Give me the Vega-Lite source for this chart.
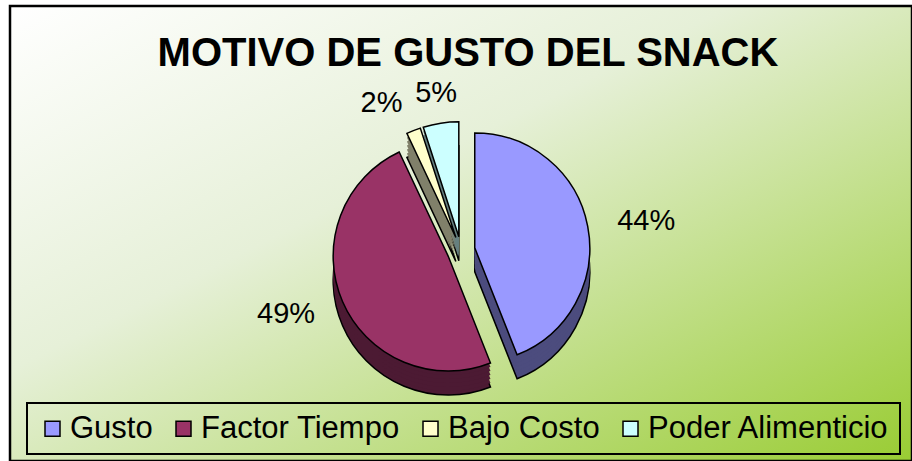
{
  "$schema": "https://vega.github.io/schema/vega-lite/v6.json",
  "autosize": "none",
  "width": 902,
  "height": 455,
  "padding": {"left": 10, "top": 6, "right": 0, "bottom": 0},
  "background": "white",
  "view": {
    "fill": {"gradient": "linear", "x1": 0, "y1": 0, "x2": 1, "y2": 1,
      "stops": [{"offset": 0, "color": "#ffffff"}, {"offset": 0.4, "color": "#e6f0d8"}, {"offset": 1, "color": "#99cc33"}]},
    "stroke": "black",
    "strokeWidth": 2.5
  },
  "title": {
    "text": "MOTIVO DE GUSTO DEL SNACK",
    "font": "Liberation Sans",
    "fontSize": 40,
    "fontWeight": "bold",
    "color": "black",
    "offset": -62,
    "baseline": "alphabetic",
    "dy": 38,
    "dx": 7
  },
  "data": {
    "values": [
      {"motivo": "Gusto", "value": 44, "pct": "44%", "order": 1},
      {"motivo": "Factor Tiempo", "value": 49, "pct": "49%", "order": 2},
      {"motivo": "Bajo Costo", "value": 2, "pct": "2%", "order": 3},
      {"motivo": "Poder Alimenticio", "value": 5, "pct": "5%", "order": 4}
    ]
  },
  "transform": [
    {"stack": "value", "groupby": [], "as": ["v0", "v1"], "sort": [{"field": "order", "order": "ascending"}]}
  ],
  "layer": [
    {
      "mark": {"type": "arc", "outerRadius": 115, "stroke": "black", "strokeWidth": 1.5,
        "xOffset": {"expr": "14*sin((datum.v0+datum.v1)*PI/100)"},
        "yOffset": {"expr": "41-14*cos((datum.v0+datum.v1)*PI/100)"}},
      "encoding": {
        "theta": {"field": "v0", "type": "quantitative", "scale": {"domain": [0, 100]}},
        "theta2": {"field": "v1"},
        "color": {"field": "motivo", "type": "nominal", "legend": null,
          "scale": {"domain": ["Gusto", "Factor Tiempo", "Bajo Costo", "Poder Alimenticio"], "range": ["#4c4c7e", "#4c1a33", "#80806a", "#668080"]}}
      }
    },
    {
      "mark": {"type": "arc", "outerRadius": 115,
        "xOffset": {"expr": "14*sin((datum.v0+datum.v1)*PI/100)"},
        "yOffset": {"expr": "37-14*cos((datum.v0+datum.v1)*PI/100)"}},
      "encoding": {
        "theta": {"field": "v0", "type": "quantitative", "scale": {"domain": [0, 100]}},
        "theta2": {"field": "v1"},
        "color": {"field": "motivo", "type": "nominal", "legend": null,
          "scale": {"domain": ["Gusto", "Factor Tiempo", "Bajo Costo", "Poder Alimenticio"], "range": ["#4c4c7e", "#4c1a33", "#80806a", "#668080"]}}
      }
    },
    {
      "mark": {"type": "arc", "outerRadius": 115,
        "xOffset": {"expr": "14*sin((datum.v0+datum.v1)*PI/100)"},
        "yOffset": {"expr": "33-14*cos((datum.v0+datum.v1)*PI/100)"}},
      "encoding": {
        "theta": {"field": "v0", "type": "quantitative", "scale": {"domain": [0, 100]}},
        "theta2": {"field": "v1"},
        "color": {"field": "motivo", "type": "nominal", "legend": null,
          "scale": {"domain": ["Gusto", "Factor Tiempo", "Bajo Costo", "Poder Alimenticio"], "range": ["#4c4c7e", "#4c1a33", "#80806a", "#668080"]}}
      }
    },
    {
      "mark": {"type": "arc", "outerRadius": 115,
        "xOffset": {"expr": "14*sin((datum.v0+datum.v1)*PI/100)"},
        "yOffset": {"expr": "29-14*cos((datum.v0+datum.v1)*PI/100)"}},
      "encoding": {
        "theta": {"field": "v0", "type": "quantitative", "scale": {"domain": [0, 100]}},
        "theta2": {"field": "v1"},
        "color": {"field": "motivo", "type": "nominal", "legend": null,
          "scale": {"domain": ["Gusto", "Factor Tiempo", "Bajo Costo", "Poder Alimenticio"], "range": ["#4c4c7e", "#4c1a33", "#80806a", "#668080"]}}
      }
    },
    {
      "mark": {"type": "arc", "outerRadius": 115,
        "xOffset": {"expr": "14*sin((datum.v0+datum.v1)*PI/100)"},
        "yOffset": {"expr": "25-14*cos((datum.v0+datum.v1)*PI/100)"}},
      "encoding": {
        "theta": {"field": "v0", "type": "quantitative", "scale": {"domain": [0, 100]}},
        "theta2": {"field": "v1"},
        "color": {"field": "motivo", "type": "nominal", "legend": null,
          "scale": {"domain": ["Gusto", "Factor Tiempo", "Bajo Costo", "Poder Alimenticio"], "range": ["#4c4c7e", "#4c1a33", "#80806a", "#668080"]}}
      }
    },
    {
      "mark": {"type": "arc", "outerRadius": 115,
        "xOffset": {"expr": "14*sin((datum.v0+datum.v1)*PI/100)"},
        "yOffset": {"expr": "21-14*cos((datum.v0+datum.v1)*PI/100)"}},
      "encoding": {
        "theta": {"field": "v0", "type": "quantitative", "scale": {"domain": [0, 100]}},
        "theta2": {"field": "v1"},
        "color": {"field": "motivo", "type": "nominal", "legend": null,
          "scale": {"domain": ["Gusto", "Factor Tiempo", "Bajo Costo", "Poder Alimenticio"], "range": ["#4c4c7e", "#4c1a33", "#80806a", "#668080"]}}
      }
    },
    {
      "mark": {"type": "arc", "outerRadius": 115, "stroke": "black", "strokeWidth": 1.5,
        "xOffset": {"expr": "14*sin((datum.v0+datum.v1)*PI/100)"},
        "yOffset": {"expr": "17-14*cos((datum.v0+datum.v1)*PI/100)"}},
      "encoding": {
        "theta": {"field": "v0", "type": "quantitative", "scale": {"domain": [0, 100]}},
        "theta2": {"field": "v1"},
        "color": {"field": "motivo", "type": "nominal",
          "scale": {"domain": ["Gusto", "Factor Tiempo", "Bajo Costo", "Poder Alimenticio"], "range": ["#9999ff", "#993366", "#ffffcc", "#ccffff"]},
          "legend": {"orient": "none", "legendX": 17, "legendY": 397, "direction": "horizontal", "title": null}}
      }
    },
    {
      "mark": {"type": "text", "radius": 145, "font": "Liberation Sans", "fontSize": 29, "color": "black", "baseline": "middle",
        "align": {"expr": "sin((datum.v0+datum.v1)*PI/100) > 0.3 ? 'left' : (sin((datum.v0+datum.v1)*PI/100) < -0.3 ? 'right' : 'center')"},
        "xOffset": {"expr": "14*sin((datum.v0+datum.v1)*PI/100)"},
        "yOffset": {"expr": "17-14*cos((datum.v0+datum.v1)*PI/100)"}},
      "encoding": {
        "theta": {"field": "value", "type": "quantitative", "stack": true},
        "order": {"field": "order"},
        "text": {"field": "pct"}
      }
    }
  ],
  "resolve": {"scale": {"color": "independent"}},
  "config": {
    "legend": {
      "strokeColor": "black",
      "strokeWidth": 2,
      "padding": 10,
      "symbolOffset": 0,
      "symbolType": "square",
      "symbolSize": 225,
      "symbolStrokeColor": "black",
      "symbolStrokeWidth": 1.5,
      "symbolOpacity": 1,
      "labelFont": "Liberation Sans",
      "labelFontSize": 31,
      "labelColor": "black",
      "labelLimit": 400,
      "labelOffset": 2,
      "columnPadding": 15
    }
  }
}
